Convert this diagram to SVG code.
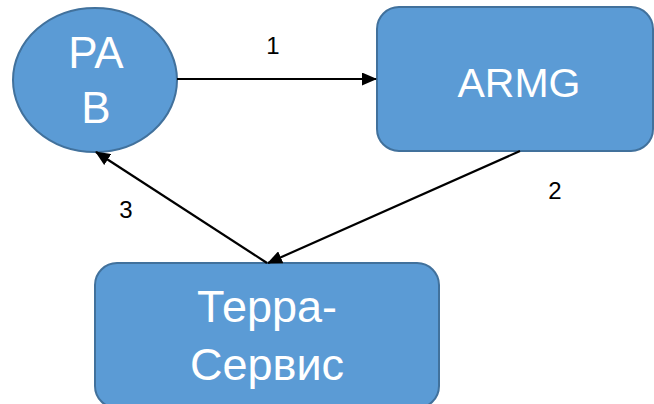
<svg xmlns="http://www.w3.org/2000/svg" width="654" height="404" viewBox="0 0 654 404">
<style>
.node{fill:#5B9BD5;stroke:#41719C;stroke-width:2}
.lbl{font-family:"Liberation Sans",Arial,sans-serif;fill:#fff;text-anchor:middle}
.num{font-family:"Liberation Sans",Arial,sans-serif;fill:#000;font-size:24px;text-anchor:middle}
.edge{stroke:#000;stroke-width:2.2;fill:none;marker-end:url(#ah)}
</style>
<defs>
<marker id="ah" viewBox="0 0 15 13" refX="14" refY="6.5" markerUnits="userSpaceOnUse" markerWidth="15" markerHeight="13" orient="auto">
<path d="M0,0 L15,6.5 L0,13 z" fill="#000"/>
</marker>
</defs>
<g id="pab">
<ellipse class="node" cx="95" cy="80" rx="82" ry="72"/>
<text class="lbl" font-size="44" x="96" y="68">PA</text>
<text class="lbl" font-size="44" x="96" y="123">B</text>
</g>
<g id="armg">
<rect class="node" x="377" y="7" width="276" height="144" rx="22"/>
<text class="lbl" font-size="41" x="519" y="97">ARMG</text>
</g>
<g id="terra">
<rect class="node" x="95" y="263" width="344" height="145" rx="22"/>
<text class="lbl" font-size="45" x="267" y="322">Терра-</text>
<text class="lbl" font-size="45" x="267" y="380">Сервис</text>
</g>
<g id="connectors">
<line class="edge" x1="177" y1="79" x2="376" y2="79"/>
<line class="edge" x1="520" y1="151" x2="268" y2="263"/>
<line class="edge" x1="267" y1="263" x2="96" y2="152"/>
<text class="num" x="273" y="54">1</text>
<text class="num" x="555" y="199">2</text>
<text class="num" x="126" y="218">3</text>
</g>
</svg>
